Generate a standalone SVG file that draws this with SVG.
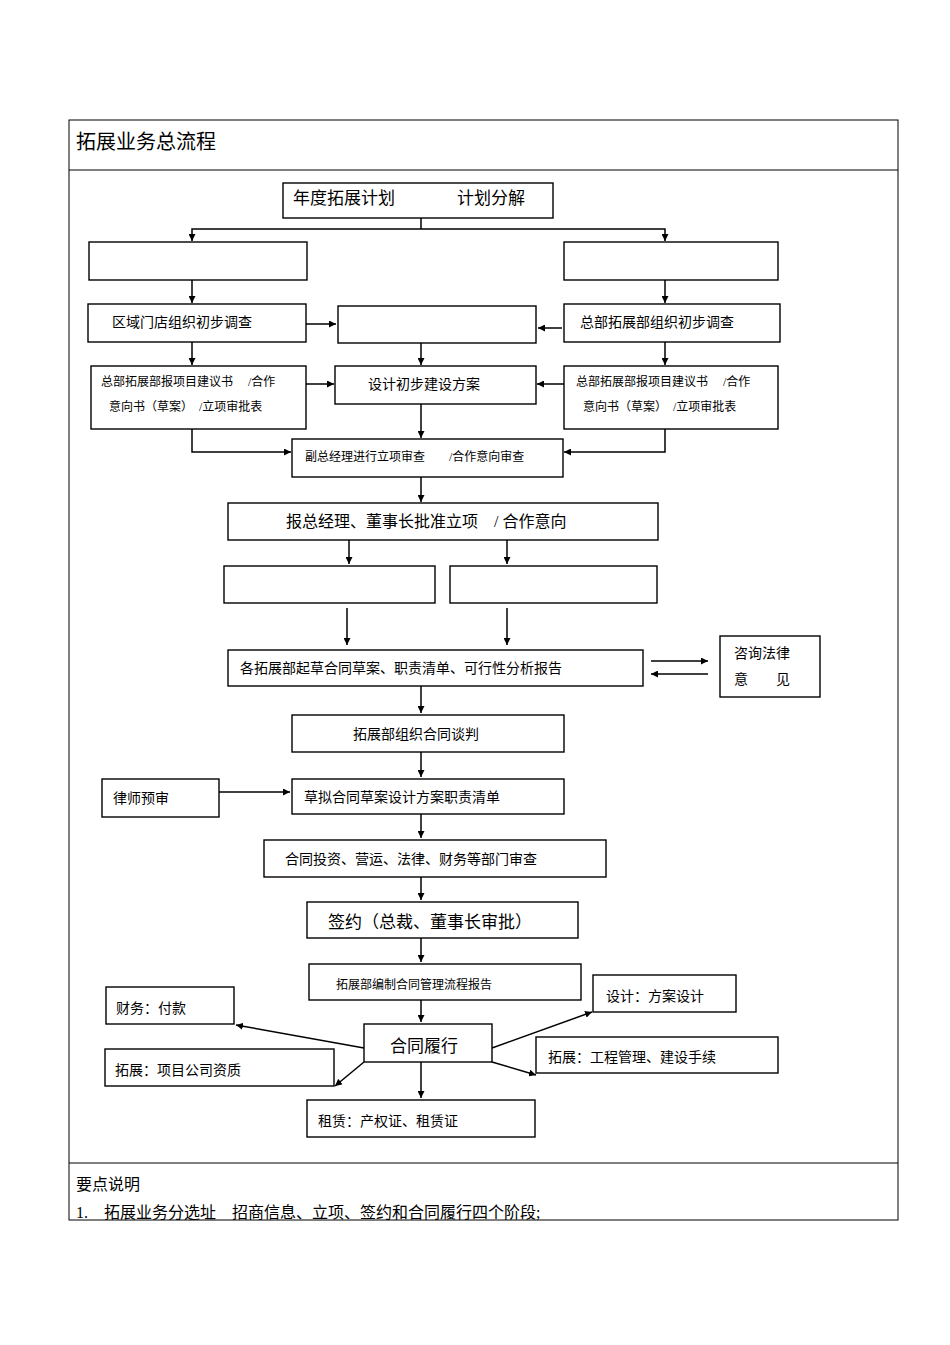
<svg xmlns="http://www.w3.org/2000/svg" width="950" height="1345" viewBox="0 0 950 1345">
<defs>
<marker id="a" viewBox="0 0 10 10" refX="10" refY="5" markerWidth="7" markerHeight="7" orient="auto" markerUnits="userSpaceOnUse"><path d="M0,0L10,5L0,10z" fill="#000"/></marker>
<style>
rect{fill:#fff;stroke:#000;stroke-width:1.4}
text{font-family:"Liberation Serif","Noto Sans CJK SC",serif;fill:#000}
.c path,.c line{stroke:#000;stroke-width:1.5;fill:none;marker-end:url(#a)}
.s12{font-size:12px}.s14{font-size:14px}.s16{font-size:16px}.s17{font-size:17px}
</style>
</defs>
<rect width="950" height="1345" style="stroke:none"/>
<g id="frame">
<rect x="69" y="120" width="829" height="1100" style="stroke-width:1"/>
<line x1="69" y1="170" x2="898" y2="170" stroke="#000"/>
<line x1="69" y1="1163" x2="898" y2="1163" stroke="#000"/>
<text x="76" y="149" style="font-size:20px">拓展业务总流程</text>
<text x="76" y="1190" class="s16">要点说明</text>
<text x="76" y="1218" class="s16" xml:space="preserve">1.　拓展业务分选址　招商信息、立项、签约和合同履行四个阶段;</text>
</g>
<g id="n1"><rect x="283" y="183" width="270" height="35"/><text x="293" y="204" class="s17" xml:space="preserve">年度拓展计划</text><text x="457" y="204" class="s17">计划分解</text></g>
<g id="n2"><rect x="89" y="242" width="218" height="38"/></g>
<g id="n3"><rect x="564" y="242" width="214" height="38"/></g>
<g id="n4"><rect x="88" y="304" width="218" height="38"/><text x="112" y="327" class="s14">区域门店组织初步调查</text></g>
<g id="n5"><rect x="338" y="306" width="198" height="37"/></g>
<g id="n6"><rect x="564" y="304" width="216" height="38"/><text x="580" y="327" class="s14">总部拓展部组织初步调查</text></g>
<g id="n7"><rect x="91" y="366" width="215" height="63"/><text x="101" y="386" class="s12" xml:space="preserve">总部拓展部报项目建议书　 /合作</text><text x="109" y="411" class="s12" xml:space="preserve">意向书（草案）　/立项审批表</text></g>
<g id="n8"><rect x="335" y="366" width="201" height="38"/><text x="368" y="389" class="s14">设计初步建设方案</text></g>
<g id="n9"><rect x="564" y="366" width="214" height="63"/><text x="576" y="386" class="s12" xml:space="preserve">总部拓展部报项目建议书　 /合作</text><text x="583" y="411" class="s12" xml:space="preserve">意向书（草案）　/立项审批表</text></g>
<g id="n10"><rect x="292" y="439" width="271" height="38"/><text x="305" y="461" class="s12" xml:space="preserve">副总经理进行立项审查　　/合作意向审查</text></g>
<g id="n11"><rect x="228" y="503" width="430" height="37"/><text x="286" y="527" class="s16" xml:space="preserve">报总经理、董事长批准立项　/ 合作意向</text></g>
<g id="n12"><rect x="224" y="566" width="211" height="37"/></g>
<g id="n13"><rect x="450" y="566" width="207" height="37"/></g>
<g id="n14"><rect x="228" y="650" width="415" height="36"/><text x="240" y="673" class="s14">各拓展部起草合同草案、职责清单、可行性分析报告</text></g>
<g id="n15"><rect x="720" y="636" width="100" height="61"/><text x="734" y="658" class="s14">咨询法律</text><text x="734" y="684" class="s14" xml:space="preserve">意　　见</text></g>
<g id="n16"><rect x="292" y="715" width="272" height="37"/><text x="353" y="739" class="s14">拓展部组织合同谈判</text></g>
<g id="n17"><rect x="102" y="779" width="117" height="38"/><text x="113" y="803" class="s14">律师预审</text></g>
<g id="n18"><rect x="292" y="779" width="272" height="35"/><text x="304" y="802" class="s14">草拟合同草案设计方案职责清单</text></g>
<g id="n19"><rect x="264" y="840" width="342" height="37"/><text x="285" y="864" class="s14">合同投资、营运、法律、财务等部门审查</text></g>
<g id="n20"><rect x="307" y="902" width="271" height="36"/><text x="328" y="928" class="s17">签约（总裁、董事长审批）</text></g>
<g id="n21"><rect x="309" y="964" width="272" height="36"/><text x="336" y="989" class="s12">拓展部编制合同管理流程报告</text></g>
<g id="n22"><rect x="364" y="1024" width="128" height="38"/><text x="390" y="1052" class="s17">合同履行</text></g>
<g id="n23"><rect x="106" y="987" width="128" height="37"/><text x="116" y="1013" class="s14">财务：付款</text></g>
<g id="n24"><rect x="593" y="975" width="143" height="37"/><text x="606" y="1001" class="s14">设计：方案设计</text></g>
<g id="n25"><rect x="105" y="1049" width="229" height="37"/><text x="115" y="1075" class="s14">拓展：项目公司资质</text></g>
<g id="n26"><rect x="536" y="1037" width="242" height="36"/><text x="548" y="1062" class="s14">拓展：工程管理、建设手续</text></g>
<g id="n27"><rect x="307" y="1100" width="228" height="37"/><text x="318" y="1126" class="s14">租赁：产权证、租赁证</text></g>
<g class="c" id="connectors">
<line x1="421" y1="218" x2="421" y2="229" style="marker-end:none"/>
<path d="M421,229H192V241"/><path d="M421,229H665V241"/>
<line x1="192" y1="280" x2="192" y2="303"/><line x1="665" y1="280" x2="665" y2="303"/>
<line x1="306" y1="324" x2="336" y2="324"/><line x1="562" y1="328" x2="538" y2="328"/>
<line x1="192" y1="342" x2="192" y2="365"/><line x1="421" y1="343" x2="421" y2="365"/><line x1="665" y1="342" x2="665" y2="365"/>
<line x1="306" y1="384" x2="334" y2="384"/><line x1="564" y1="384" x2="537" y2="384"/>
<line x1="421" y1="404" x2="421" y2="438"/>
<path d="M192,429V452H291"/><path d="M665,429V452H564"/>
<line x1="421" y1="477" x2="421" y2="502"/>
<line x1="349" y1="540" x2="349" y2="564"/><line x1="507" y1="540" x2="507" y2="564"/>
<line x1="347" y1="608" x2="347" y2="645"/><line x1="507" y1="608" x2="507" y2="645"/>
<line x1="651" y1="661" x2="708" y2="661"/><line x1="708" y1="674" x2="651" y2="674"/>
<line x1="421" y1="686" x2="421" y2="713"/>
<line x1="421" y1="752" x2="421" y2="777"/>
<line x1="219" y1="792" x2="290" y2="792"/>
<line x1="421" y1="814" x2="421" y2="838"/>
<line x1="421" y1="877" x2="421" y2="900"/>
<line x1="421" y1="938" x2="421" y2="962"/>
<line x1="421" y1="1000" x2="421" y2="1022"/>
<line x1="364" y1="1048" x2="236" y2="1025"/>
<line x1="492" y1="1048" x2="592" y2="1012"/>
<line x1="364" y1="1062" x2="335" y2="1086"/>
<line x1="492" y1="1062" x2="536" y2="1075"/>
<line x1="421" y1="1062" x2="421" y2="1098"/>
</g>
</svg>
